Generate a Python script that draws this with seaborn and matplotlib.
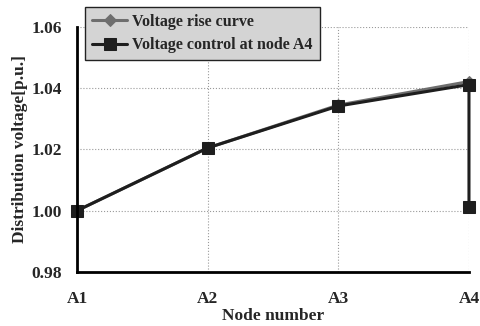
import numpy as np
import pandas as pd
import matplotlib
matplotlib.use("Agg")
import matplotlib.pyplot as plt
import seaborn as sns

nodes = ["A1", "A2", "A3", "A4"]
rise_x = [0, 1, 2, 3]
rise_y = [1.000, 1.0205, 1.0345, 1.0422]
ctrl_x = [0, 1, 2, 3, 3]
ctrl_y = [1.000, 1.0205, 1.0342, 1.0412, 1.0013]
yticks = [0.98, 1.00, 1.02, 1.04, 1.06]

sns.set_style("white")
plt.rcParams['font.family'] = ['Liberation Serif', 'DejaVu Serif']
plt.rcParams['font.weight'] = 'bold'

fig = plt.figure(figsize=(4.81, 3.26), dpi=100)
ax = fig.add_axes([0.160, 0.166, 0.815, 0.751])

df_rise = pd.DataFrame({"x": rise_x, "y": rise_y})
df_ctrl = pd.DataFrame({"x": ctrl_x, "y": ctrl_y})

sns.lineplot(data=df_rise, x="x", y="y", ax=ax, color="#6e6e6e", lw=2.2,
             marker="D", markersize=6, markeredgecolor="#6e6e6e",
             sort=False, estimator=None, label="Voltage rise curve")
sns.lineplot(data=df_ctrl, x="x", y="y", ax=ax, color="#1e1e1e", lw=2.2,
             marker="s", markersize=8, markeredgecolor="#1e1e1e",
             sort=False, estimator=None, label="Voltage control at node A4")
for ln in ax.lines:
    ln.set_clip_on(False)

ax.set_xlim(0, 3)
ax.set_ylim(0.98, 1.06)
ax.set_xticks(range(len(nodes)))
ax.set_xticklabels(nodes)
ax.set_yticks(yticks)
ax.set_yticklabels([f"{v:.2f}" for v in yticks])
ax.tick_params(direction="in", length=4, width=2, labelsize=12.5)
ax.yaxis.set_tick_params(pad=11)
ax.xaxis.set_tick_params(pad=14)
for lab in ax.get_xticklabels() + ax.get_yticklabels():
    lab.set_fontweight("bold")

ax.grid(True, color="#9a9a9a", linestyle=":", linewidth=0.8)
ax.set_axisbelow(True)
for s in ["top", "right"]:
    ax.spines[s].set_visible(False)
for s in ["left", "bottom"]:
    ax.spines[s].set_color("black")
    ax.spines[s].set_linewidth(2)

ax.set_xlabel("Node number", fontsize=12.5, fontweight="bold", labelpad=0.5)
ax.set_ylabel("Distribution voltage[p.u.]", fontsize=12.5, fontweight="bold", labelpad=2)

leg = ax.legend(loc="upper left", bbox_to_anchor=(0.177, 0.979),
                bbox_transform=fig.transFigure, borderaxespad=0,
                fancybox=False, facecolor="#d4d4d4", edgecolor="#222222",
                framealpha=1, prop={"size": 11.5, "weight": "bold"},
                handlelength=2.2, handletextpad=0.3, labelspacing=0.45,
                borderpad=0.45)
leg.get_frame().set_linewidth(1.0)

fig.savefig("out.png", dpi=100)
